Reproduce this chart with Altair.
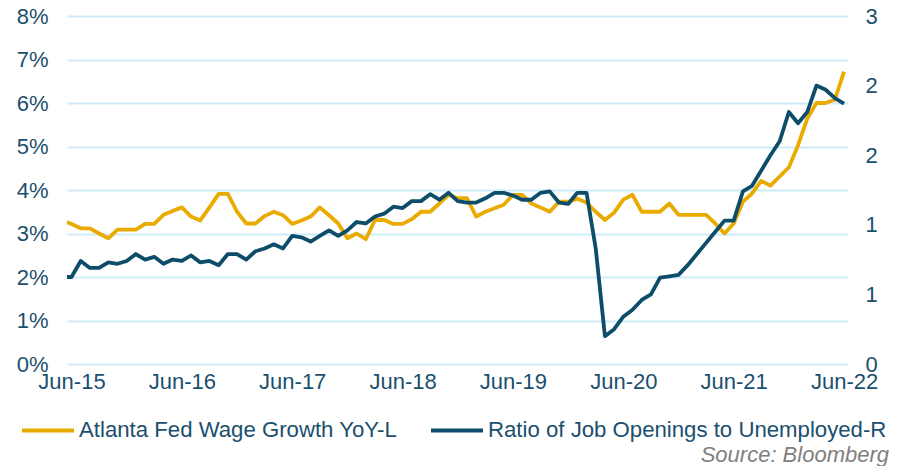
import altair as alt
import pandas as pd

# month index: -1 = May-15, 0 = Jun-15 ... 84 = Jun-22
wage = [3.3,
        3.22, 3.12, 3.12, 3.0, 2.89, 3.09, 3.09, 3.09, 3.22, 3.22, 3.43, 3.52,
        3.6, 3.39, 3.3, 3.6, 3.91, 3.91, 3.5, 3.23, 3.23, 3.4, 3.5, 3.42,
        3.22, 3.3, 3.39, 3.6, 3.42, 3.23, 2.89, 3.0, 2.87, 3.31, 3.31, 3.22,
        3.22, 3.33, 3.5, 3.5, 3.69, 3.89, 3.81, 3.81, 3.39, 3.5, 3.58, 3.66,
        3.89, 3.89, 3.69, 3.6, 3.5, 3.73, 3.73, 3.8, 3.71, 3.5, 3.31, 3.48,
        3.78, 3.89, 3.5, 3.5, 3.5, 3.69, 3.43, 3.43, 3.43, 3.43, 3.23, 3.0,
        3.23, 3.73, 3.92, 4.21, 4.1, 4.31, 4.52, 5.03, 5.64, 6.0, 6.0, 6.08,
        6.72]
ratio = [0.625,
         0.625, 0.74, 0.69, 0.69, 0.73, 0.72, 0.74, 0.79, 0.75, 0.77, 0.72, 0.75,
         0.74, 0.78, 0.73, 0.74, 0.71, 0.79, 0.79, 0.75, 0.81, 0.83, 0.86, 0.83,
         0.92, 0.91, 0.88, 0.92, 0.96, 0.92, 0.96, 1.02, 1.01, 1.06, 1.08, 1.13,
         1.12, 1.17, 1.17, 1.22, 1.18, 1.23, 1.17, 1.16, 1.16, 1.19, 1.23, 1.23,
         1.21, 1.18, 1.18, 1.23, 1.24, 1.16, 1.15, 1.23, 1.23, 0.83, 0.20, 0.25,
         0.34, 0.39, 0.46, 0.50, 0.62, 0.63, 0.64, 0.71, 0.79, 0.87, 0.95, 1.03,
         1.03, 1.24, 1.28, 1.39, 1.50, 1.60, 1.81, 1.73, 1.81, 2.00, 1.97, 1.91,
         1.87]
months = list(range(-1, 85))
tick_months = [0, 12, 24, 36, 48, 60, 72, 84]
left_ticks = [0, 1, 2, 3, 4, 5, 6, 7, 8]
right_ticks = [0, 0.5, 1.0, 1.5, 2.0, 2.5]
series_names = ["Atlanta Fed Wage Growth YoY-L", "Ratio of Job Openings to Unemployed-R"]

YELLOW = "#EAAB00"
BLUE = "#0D4D6A"
TEXT = "#1B4F6E"
GRID = "#CDEBFA"
FONT = "Liberation Sans"

df_w = pd.DataFrame({"m": months, "v": wage, "s": series_names[0]})
df_r = pd.DataFrame({"m": months, "v": ratio, "s": series_names[1]})

xscale = alt.Scale(domain=[-0.49, 84.43], nice=False, zero=False)


def xaxis():
    return alt.Axis(values=tick_months, labelExpr="'Jun-' + (15 + datum.value / 12)",
                    grid=False, ticks=False, domain=False, labelFontSize=22,
                    labelColor=TEXT, labelFont=FONT, labelPadding=7, title=None,
                    labelFlush=False)


color = alt.Color("s:N", scale=alt.Scale(domain=series_names, range=[YELLOW, BLUE]),
                  legend=alt.Legend(orient="none", legendX=-47, legendY=386,
                                    direction="horizontal", title=None,
                                    symbolType="stroke", symbolSize=2704,
                                    symbolStrokeWidth=4, labelFontSize=22.2,
                                    labelColor=TEXT, labelFont=FONT, labelLimit=600,
                                    labelOffset=3, columnPadding=25, padding=0))

left = alt.Chart(df_w).mark_line(strokeWidth=3.8, clip=True, strokeJoin="round").encode(
    x=alt.X("m:Q", scale=xscale, axis=xaxis()),
    y=alt.Y("v:Q", scale=alt.Scale(domain=[0, 8], nice=False),
            axis=alt.Axis(values=left_ticks, labelExpr="datum.value + '%'",
                          grid=True, gridColor=GRID, gridWidth=2, ticks=False,
                          domain=False, labelFontSize=22, labelColor=TEXT,
                          labelFont=FONT, labelPadding=19, title=None)),
    color=color,
)

right = alt.Chart(df_r).mark_line(strokeWidth=3.8, clip=True, strokeJoin="round").encode(
    x=alt.X("m:Q", scale=xscale, axis=xaxis()),
    y=alt.Y("v:Q", scale=alt.Scale(domain=[0, 2.5], nice=False),
            axis=alt.Axis(orient="right", values=right_ticks, format=".0f",
                          grid=False, ticks=False, domain=False, labelFontSize=22,
                          labelColor=TEXT, labelFont=FONT, labelPadding=17,
                          title=None)),
    color=color,
)

source = alt.Chart(pd.DataFrame({"t": ["Source: Bloomberg"]})).mark_text(
    align="right", baseline="middle", fontSize=22, fontStyle="italic",
    font=FONT, color="#808080").encode(
    text="t:N", x=alt.value(822), y=alt.value(439))

chart = alt.layer(left, right, source).resolve_scale(y="independent").properties(
    width=781, height=348,
    autosize=alt.AutoSizeParams(type="none"),
    padding={"left": 59, "top": 8, "right": 43, "bottom": 102},
).configure_view(stroke=None)

chart.save("out.html", embed_options={"renderer": "svg", "actions": False})
